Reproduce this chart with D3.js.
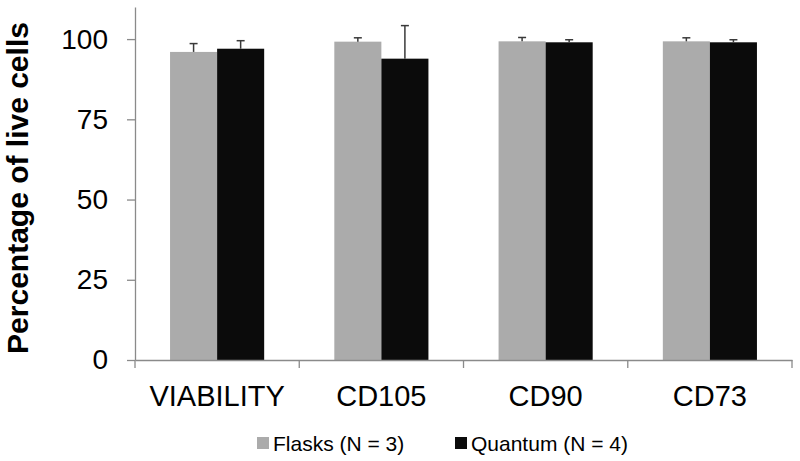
<!DOCTYPE html>
<html>
<head>
<meta charset="utf-8">
<script src="https://cdn.jsdelivr.net/npm/d3@7"></script>
<style>
  html, body { margin: 0; padding: 0; background: #fff; }
  svg { display: block; font-family: "Liberation Sans", Arial, sans-serif; }
</style>
</head>
<body>
<svg id="chart" width="800" height="461"></svg>
<script>
const categories = ["VIABILITY", "CD105", "CD90", "CD73"];
const seriesNames = ["Flasks (N = 3)", "Quantum (N = 4)"];
const flasksValues = [96.0, 99.2, 99.3, 99.3];
const flasksErrors = [2.6, 1.2, 1.2, 1.1];
const quantumValues = [97.0, 93.9, 99.0, 99.0];
const quantumErrors = [2.5, 10.3, 0.8, 0.8];
const yTicks = [0, 25, 50, 75, 100];
const seriesColors = ["#ababab", "#0b0b0b"];

const series = [
  { name: seriesNames[0], values: flasksValues, errors: flasksErrors, color: seriesColors[0] },
  { name: seriesNames[1], values: quantumValues, errors: quantumErrors, color: seriesColors[1] }
];

const svg = d3.select("#chart");
const plotLeft = 135, plotRight = 792, plotTop = 7, plotBottom = 360;

const x0 = d3.scaleBand().domain(categories).range([plotLeft, plotRight])
  .paddingInner(0.427).paddingOuter(0.2134);
const x1 = d3.scaleBand().domain(seriesNames).range([0, x0.bandwidth()]).padding(0);
const y = d3.scaleLinear().domain([0, 110]).range([plotBottom, plotTop]);

// bars
series.forEach(s => {
  svg.append("g").selectAll("rect").data(categories).join("rect")
    .attr("x", (c) => x0(c) + x1(s.name))
    .attr("y", (c, i) => y(s.values[i]))
    .attr("width", x1.bandwidth())
    .attr("height", (c, i) => y(0) - y(s.values[i]))
    .attr("fill", s.color);
});

// error bars (plus direction)
series.forEach(s => {
  const g = svg.append("g").attr("stroke", "#3a3a3a").attr("stroke-width", 1.5);
  categories.forEach((c, i) => {
    const cx = x0(c) + x1(s.name) + x1.bandwidth() / 2;
    const yv = y(s.values[i]);
    const ye = y(s.values[i] + s.errors[i]);
    g.append("line").attr("x1", cx).attr("x2", cx).attr("y1", yv).attr("y2", ye);
    g.append("line").attr("x1", cx - 4).attr("x2", cx + 4).attr("y1", ye).attr("y2", ye);
  });
});

// y axis
const yAxis = d3.axisLeft(y).tickValues(yTicks).tickSize(8).tickPadding(19).tickSizeOuter(0);
const gy = svg.append("g").attr("transform", `translate(${plotLeft},0)`).call(yAxis);
gy.select(".domain").attr("stroke", "#8a8a8a").attr("stroke-width", 1.3);
gy.selectAll(".tick line").attr("stroke", "#8a8a8a").attr("stroke-width", 1.3);
gy.selectAll(".tick text").attr("font-size", "28px").attr("fill", "#000")
  .attr("font-family", "'Liberation Sans', Arial, sans-serif");

// x axis
const xAxis = d3.axisBottom(x0).tickSize(0).tickPadding(0).tickSizeOuter(0);
const gx = svg.append("g").attr("transform", `translate(0,${plotBottom})`).call(xAxis);
gx.select(".domain").attr("stroke", "#8a8a8a").attr("stroke-width", 1.3);
gx.selectAll(".tick text").attr("font-size", "29px").attr("fill", "#000")
  .attr("dy", null).attr("y", 46)
  .attr("font-family", "'Liberation Sans', Arial, sans-serif");
// category boundary ticks
const boundaries = categories.map(c => x0(c) - x0.step() * x0.paddingOuter()).concat([plotRight]);
gx.append("g").selectAll("line").data(boundaries).join("line")
  .attr("x1", d => d).attr("x2", d => d).attr("y1", 0).attr("y2", 8)
  .attr("stroke", "#8a8a8a").attr("stroke-width", 1.3);

// y axis title
svg.append("text")
  .attr("transform", "translate(28,188) rotate(-90)")
  .attr("text-anchor", "middle")
  .attr("font-size", "30px").attr("font-weight", "bold")
  .text("Percentage of live cells");

// legend
const legendPos = [257, 455];
const lg = svg.append("g");
series.forEach((s, i) => {
  lg.append("rect").attr("x", legendPos[i]).attr("y", 437).attr("width", 12).attr("height", 12).attr("fill", s.color);
  lg.append("text").attr("x", legendPos[i] + 16).attr("y", 450.5)
    .attr("font-size", "21px").attr("fill", "#000").text(s.name);
});
</script>
</body>
</html>
